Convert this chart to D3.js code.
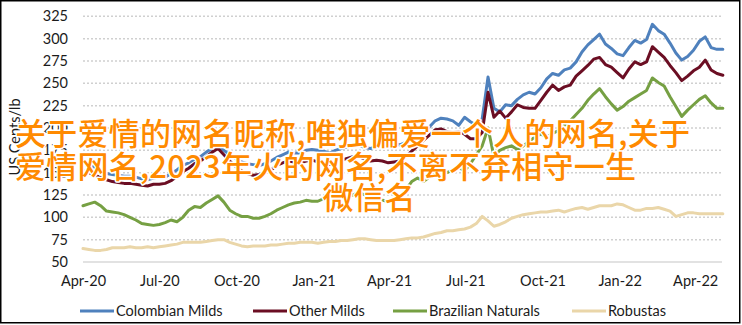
<!DOCTYPE html>
<html><head><meta charset="utf-8">
<script src="https://cdn.jsdelivr.net/npm/d3@7"></script>
<style>
html,body{margin:0;padding:0;background:#fff;}
svg{display:block;}
</style></head>
<body>
<svg id="chart" width="742" height="325"></svg>
<script>
const seriesNames = ["Colombian Milds","Other Milds","Brazilian Naturals","Robustas"];
const seriesColors = ["#4F81BD","#6B0E23","#76A043","#EAD6A9"];
const firstWeek = "2020-04-01";
const xTickLabels = ["Apr-20","Jul-20","Oct-20","Jan-21","Apr-21","Jul-21","Oct-21","Jan-22","Apr-22"];
const yTicks = [50,75,100,125,150,175,200,225,250,275,300,325];
const yTitle = "US Cents/lb";

const colombianMilds = [160,158,156,152,149,148,147,146,146,145,143,142,144,145,145,149,153,158,161,165,168,173,177,179,175,170,166,162,160,159,158,160,163,167,170,173,172,172,175,176,175,174,172,175,177,179,180,181,178,177,179,181,182,183,181,184,187,190,195,201,208,211,210,208,203,212,207,203,210,257,222,218,226,225,232,237,240,238,245,255,261,259,265,267,274,285,293,299,305,294,289,283,281,290,298,295,299,316,309,305,295,284,276,280,287,297,302,290,288,288];
const otherMilds = [152,150,147,145,142,140,139,138,138,137,136,135,137,137,138,141,146,151,155,160,163,168,173,177,170,163,157,152,149,147,148,150,153,158,161,163,162,161,163,164,162,160,159,162,164,166,168,168,165,163,164,163,161,162,163,168,174,180,186,192,198,199,196,195,196,193,188,188,195,240,212,219,211,218,226,223,222,222,231,240,248,242,246,248,258,264,270,277,279,271,268,262,256,266,274,271,274,291,285,279,270,262,253,258,264,268,276,265,261,259];
const brazilianNaturals = [113,115,117,113,107,106,105,103,100,97,93,92,91,92,94,97,95,100,108,112,111,116,120,124,117,108,104,101,101,99,99,101,104,108,111,114,116,117,119,118,118,121,122,121,122,124,125,128,125,122,121,119,118,120,122,131,140,144,140,145,150,152,150,153,156,152,160,170,180,200,168,175,178,180,176,180,185,190,193,190,194,197,203,208,215,222,231,238,244,235,227,220,224,230,234,238,242,256,251,247,235,224,213,220,226,232,236,228,222,222];
const robustas = [65,64,63,63,64,66,66,66,67,66,66,67,66,67,68,69,70,72,72,72,72,73,74,75,75,72,70,68,67,68,68,68,69,69,70,71,71,72,72,72,71,72,73,73,74,74,75,76,76,75,74,74,74,74,75,76,77,77,78,80,82,83,85,85,86,87,89,93,101,96,90,92,95,99,101,103,104,105,106,106,107,108,106,108,110,111,109,111,113,113,113,115,114,111,108,108,110,110,111,109,107,101,103,105,105,104,104,104,104,104];
const seriesValues = [colombianMilds, otherMilds, brazilianNaturals, robustas];

const overlayLines = ["关于爱情的网名昵称,唯独偏爱一个人的网名,关于","爱情网名,2023年火的网名,不离不弃相守一生","微信名"];

const svg = d3.select("#chart");
const parse = d3.timeParse("%Y-%m-%d");
const start = parse(firstWeek);
const fmt = d3.timeFormat("%b-%y");
const font = "Lato, 'Liberation Sans Narrow', sans-serif";

const x = d3.scaleTime().domain([start, parse("2022-05-03")]).range([83, 722]);
const y = d3.scaleLinear().domain([50, 325]).range([262, 16.3]);

// border
svg.append("rect").attr("x",0.75).attr("y",0.75).attr("width",739).attr("height",322)
  .attr("fill","none").attr("stroke","#000").attr("stroke-width",1.5);

// gridlines
svg.append("g").selectAll("line").data(yTicks.slice(1)).join("line")
  .attr("x1",83).attr("x2",722).attr("y1",d=>y(d)).attr("y2",d=>y(d))
  .attr("stroke","#d0d0d0").attr("stroke-width",1.5).attr("stroke-dasharray","2,2");
svg.append("line").attr("x1",83).attr("x2",722).attr("y1",y(50)).attr("y2",y(50))
  .attr("stroke","#d9d9d9").attr("stroke-width",1.5);

// y labels
const yAxis = d3.axisLeft(y).tickValues(yTicks).tickSize(0).tickPadding(0);
const gy = svg.append("g").attr("transform","translate(68,0)").call(yAxis);
gy.select(".domain").remove();
gy.selectAll("text").attr("font-family",font).attr("font-size",14.5).attr("fill","#1b1b1b");

// x labels
const tickDates = xTickLabels.map(s => d3.timeParse("%b-%y")(s));
const xAxis = d3.axisBottom(x).tickValues(tickDates).tickFormat(fmt).tickSize(0).tickPadding(0);
const gx = svg.append("g").attr("transform","translate(0,276)").call(xAxis);
gx.select(".domain").remove();
gx.selectAll("text").attr("font-family",font).attr("font-size",14.5).attr("fill","#1b1b1b");

// y title
svg.append("text").attr("transform","translate(20,137) rotate(-90)")
  .attr("text-anchor","middle").attr("font-family",font).attr("font-size",14.5)
  .attr("fill","#1b1b1b").text(yTitle);

// lines
const line = d3.line().x((d,i)=>x(d3.timeDay.offset(start, 7*i))).y(d=>y(d)).curve(d3.curveLinear);
svg.append("g").selectAll("path").data(seriesValues).join("path")
  .attr("d", d=>line(d)).attr("fill","none")
  .attr("stroke",(d,i)=>seriesColors[i]).attr("stroke-width",3)
  .attr("stroke-linejoin","round").attr("stroke-linecap","round");

// legend
const legendX = [80, 253, 393, 572];
const lg = svg.append("g").selectAll("g").data(seriesNames).join("g")
  .attr("transform",(d,i)=>`translate(${legendX[i]},311)`);
lg.append("line").attr("x1",0).attr("x2",34).attr("y1",0).attr("y2",0)
  .attr("stroke",(d,i)=>seriesColors[i]).attr("stroke-width",3);
lg.append("text").attr("x",36).attr("y",0).attr("dy","0.35em")
  .attr("font-family",font).attr("font-size",14.5).attr("fill","#1b1b1b").text(d=>d);

// overlay text
const ov = svg.append("g").attr("font-family","'Noto Sans CJK SC', sans-serif")
  .attr("font-size",31).attr("font-weight",500).attr("fill","#FF8A00")
  .attr("stroke","#fff").attr("stroke-width",3).attr("paint-order","stroke")
  .attr("stroke-linejoin","round");
ov.append("text").attr("x",15).attr("y",145).attr("textLength",675).attr("lengthAdjust","spacing").text(overlayLines[0]);
ov.append("text").attr("x",15).attr("y",178).attr("textLength",621).attr("lengthAdjust","spacing").text(overlayLines[1]);
ov.append("text").attr("x",369).attr("y",209).attr("text-anchor","middle").text(overlayLines[2]);
</script>
</body></html>
